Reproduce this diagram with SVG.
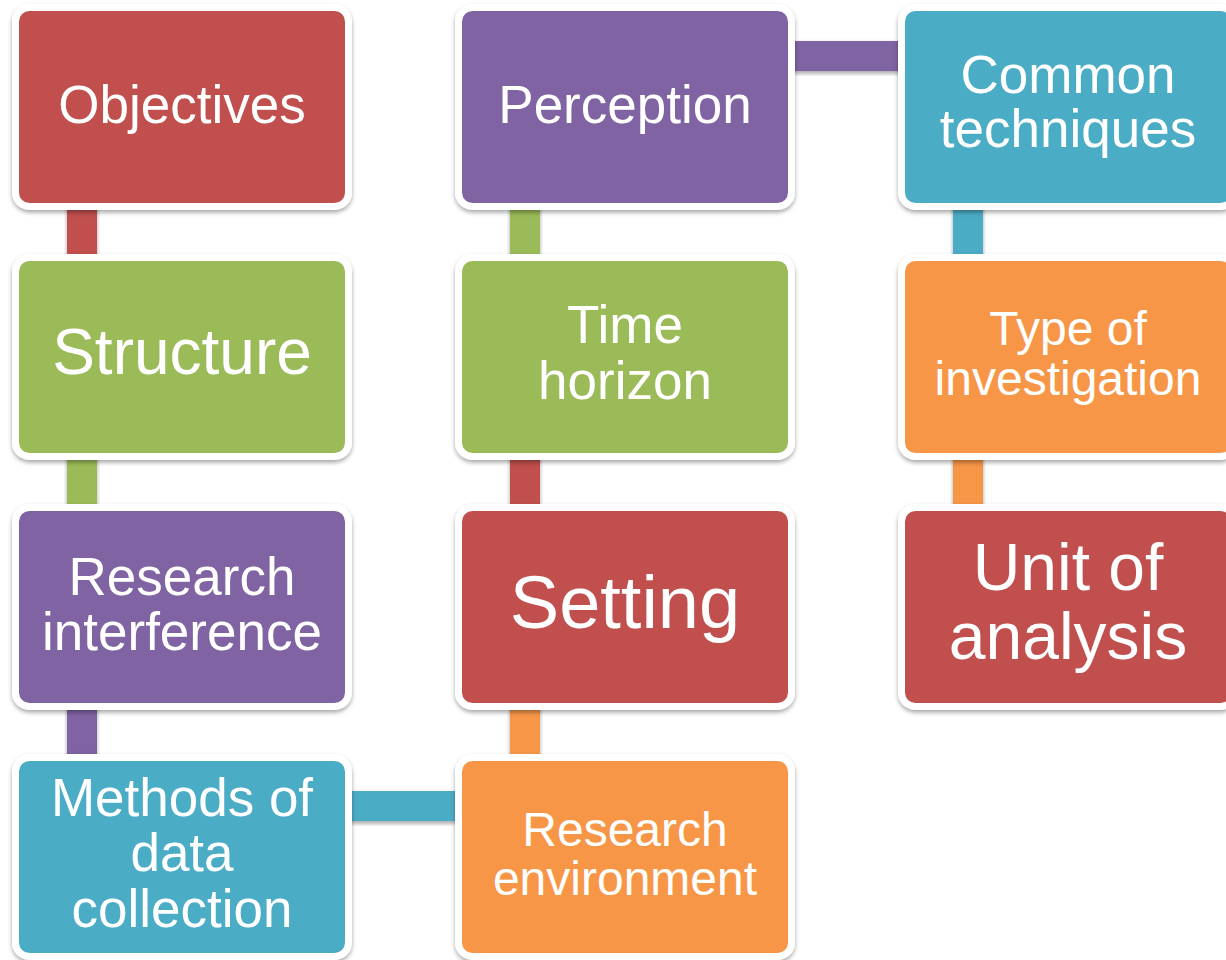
<svg xmlns="http://www.w3.org/2000/svg" width="1226" height="960" viewBox="0 0 1226 960">
<defs>
<filter id="sh" x="-10%" y="-10%" width="120%" height="125%">
<feDropShadow dx="0" dy="2.5" stdDeviation="2" flood-color="#000" flood-opacity="0.35"/>
</filter>
<style>
.box{stroke:#fff;stroke-width:7;filter:url(#sh)}
.t{font-family:"Liberation Sans",Arial,sans-serif;fill:#fff;text-anchor:middle}
.red{fill:#C0504D}.grn{fill:#9BBB59}.pur{fill:#8064A2}.blu{fill:#4BACC6}.org{fill:#F79646}
.c{filter:url(#sh)}
</style>
</defs>
<rect width="1226" height="960" fill="#fff"/>
<g id="connectors">
<rect class="c red" x="67" y="200" width="30" height="64"/>
<rect class="c grn" x="67" y="450" width="30" height="64"/>
<rect class="c pur" x="67" y="700" width="30" height="64"/>
<rect class="c blu" x="342" y="791" width="124" height="30"/>
<rect class="c org" x="510" y="700" width="30" height="64"/>
<rect class="c red" x="510" y="450" width="30" height="64"/>
<rect class="c grn" x="510" y="200" width="30" height="64"/>
<rect class="c pur" x="785" y="41" width="124" height="30"/>
<rect class="c blu" x="953" y="200" width="30" height="64"/>
<rect class="c org" x="953" y="450" width="30" height="64"/>
</g>
<g id="n-objectives">
<rect class="box red" x="15.5" y="7.5" width="333" height="199" rx="14"/>
<text class="t" x="182" y="123" font-size="53">Objectives</text>
</g>
<g id="n-structure">
<rect class="box grn" x="15.5" y="257.5" width="333" height="199" rx="14"/>
<text class="t" x="182" y="374" font-size="64">Structure</text>
</g>
<g id="n-research-interference">
<rect class="box pur" x="15.5" y="507.5" width="333" height="199" rx="14"/>
<text class="t" x="182" y="595" font-size="53">Research</text>
<text class="t" x="182" y="650" font-size="53">interference</text>
</g>
<g id="n-methods">
<rect class="box blu" x="15.5" y="757.5" width="333" height="199" rx="14"/>
<text class="t" x="182" y="816" font-size="53">Methods of</text>
<text class="t" x="182" y="871" font-size="53">data</text>
<text class="t" x="182" y="927" font-size="53">collection</text>
</g>
<g id="n-perception">
<rect class="box pur" x="458.5" y="7.5" width="333" height="199" rx="14"/>
<text class="t" x="625" y="123" font-size="53">Perception</text>
</g>
<g id="n-time-horizon">
<rect class="box grn" x="458.5" y="257.5" width="333" height="199" rx="14"/>
<text class="t" x="625" y="343" font-size="53">Time</text>
<text class="t" x="625" y="399" font-size="53">horizon</text>
</g>
<g id="n-setting">
<rect class="box red" x="458.5" y="507.5" width="333" height="199" rx="14"/>
<text class="t" x="625" y="628" font-size="74">Setting</text>
</g>
<g id="n-research-environment">
<rect class="box org" x="458.5" y="757.5" width="333" height="199" rx="14"/>
<text class="t" x="625" y="846" font-size="48">Research</text>
<text class="t" x="625" y="895" font-size="48">environment</text>
</g>
<g id="n-common-techniques">
<rect class="box blu" x="901.5" y="7.5" width="333" height="199" rx="14"/>
<text class="t" x="1068" y="93" font-size="53">Common</text>
<text class="t" x="1068" y="147" font-size="53">techniques</text>
</g>
<g id="n-type-of-investigation">
<rect class="box org" x="901.5" y="257.5" width="333" height="199" rx="14"/>
<text class="t" x="1068" y="345" font-size="48">Type of</text>
<text class="t" x="1068" y="395" font-size="48">investigation</text>
</g>
<g id="n-unit-of-analysis">
<rect class="box red" x="901.5" y="507.5" width="333" height="199" rx="14"/>
<text class="t" x="1068" y="590" font-size="66">Unit of</text>
<text class="t" x="1068" y="659" font-size="66">analysis</text>
</g>
</svg>
